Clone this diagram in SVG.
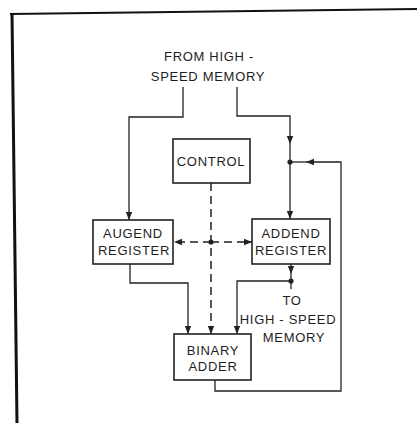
<svg xmlns="http://www.w3.org/2000/svg" width="417" height="423" viewBox="0 0 417 423">
<style>
.t{font-family:"Liberation Sans",Arial,sans-serif;font-size:13px;letter-spacing:0.7px;fill:#1e1e1e;text-anchor:middle}
.box{fill:#fff;stroke:#222;stroke-width:1.6}
.ln{fill:none;stroke:#222;stroke-width:1.3}
.ds{fill:none;stroke:#222;stroke-width:1.5;stroke-dasharray:8 5}
.dot{fill:#222}
</style>
<defs>
<marker id="ah" viewBox="0 0 8 8" refX="8" refY="4" markerWidth="8" markerHeight="8" markerUnits="userSpaceOnUse" orient="auto">
<path d="M0,0.8 L8,4 L0,7.2 Z" fill="#222"/>
</marker>
</defs>
<rect width="417" height="423" fill="#fff"/>
<g id="frame">
<path d="M10,14 L417,9" fill="none" stroke="#111" stroke-width="2"/>
<path d="M12,13 L17,423" fill="none" stroke="#111" stroke-width="3"/>
</g>
<g id="connectors">
<path class="ln" d="M183,87 V117 H129 V220" marker-end="url(#ah)"/>
<path class="ln" d="M237,87 V116 H290 V144" marker-end="url(#ah)"/>
<path class="ln" d="M290,144 V219" marker-end="url(#ah)"/>
<path class="ln" d="M215,380 V391 H341 V162 H306" marker-end="url(#ah)"/>
<path class="ln" d="M306,162 H290"/>
<path class="ln" d="M130,264 V283 H188 V334" marker-end="url(#ah)"/>
<path class="ln" d="M291,264 V274" marker-end="url(#ah)"/>
<path class="ln" d="M291,274 V289"/>
<path class="ln" d="M291,281 H237 V334" marker-end="url(#ah)"/>
<path class="ds" d="M211,183 V334" marker-end="url(#ah)"/>
<path class="ds" d="M211,242 H174" marker-end="url(#ah)"/>
<path class="ds" d="M211,242 H252" marker-end="url(#ah)"/>
<circle class="dot" cx="290" cy="162" r="2.6"/>
<circle class="dot" cx="211" cy="242" r="2.6"/>
<circle class="dot" cx="291" cy="281" r="2.6"/>
</g>
<g id="source">
<text class="t" x="209" y="61">FROM HIGH -</text>
<text class="t" x="208" y="81">SPEED MEMORY</text>
</g>
<g id="control">
<rect class="box" x="173" y="139" width="77" height="44"/>
<text class="t" x="211" y="166">CONTROL</text>
</g>
<g id="augend">
<rect class="box" x="93" y="220" width="80" height="44"/>
<text class="t" x="133" y="238">AUGEND</text>
<text class="t" x="134" y="255">REGISTER</text>
</g>
<g id="addend">
<rect class="box" x="252" y="219" width="78" height="45"/>
<text class="t" x="291" y="238">ADDEND</text>
<text class="t" x="291" y="255">REGISTER</text>
</g>
<g id="adder">
<rect class="box" x="174" y="334" width="77" height="46"/>
<text class="t" x="213" y="355">BINARY</text>
<text class="t" x="213" y="371">ADDER</text>
</g>
<g id="dest">
<text class="t" x="292" y="305">TO</text>
<text class="t" x="288" y="324">HIGH - SPEED</text>
<text class="t" x="294" y="342">MEMORY</text>
</g>
</svg>
